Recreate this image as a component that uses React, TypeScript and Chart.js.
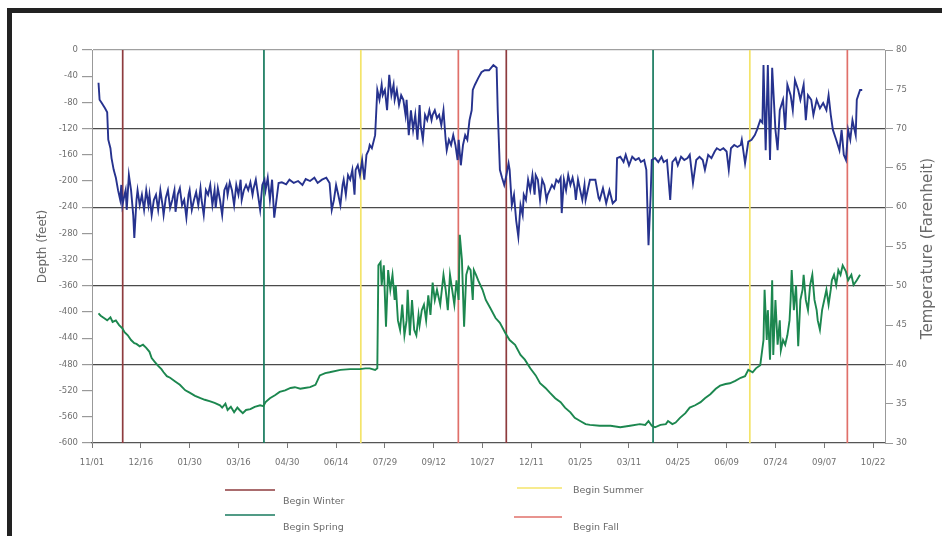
import React, { useEffect, useRef } from "react";
import { Chart, registerables } from "chart.js";

Chart.register(...registerables);

// ---- axis labels / ranges ----
const dateTickLabels = ["11/01", "12/16", "01/30", "03/16", "04/30", "06/14", "07/29", "09/12", "10/27", "12/11", "01/25", "03/11", "04/25", "06/09", "07/24", "09/07", "10/22"];
const dayStep = 45;
const lastDay = 731;
const depthMin = -600;
const depthMax = 0;
const depthStep = 40;
const tempMin = 30;
const tempMax = 80;
const tempStep = 5;

// ---- depth (feet) readings: [day, depth] ----
const depthReadings: [number, number][] = [
  [6, -50], [7, -76], [9, -81], [12, -89], [14, -95], [15, -137], [17, -150], [18, -165], [20, -183], [22, -195], [24, -214], [26, -229], [27, -206], [28, -237], [30, -221], [31, -214], [32, -244], [34, -191], [36, -214], [38, -252], [39, -287], [41, -229], [42, -214], [44, -237], [46, -221], [48, -244], [50, -214], [52, -237], [53, -221], [55, -252], [57, -229], [59, -221], [61, -244], [63, -214], [65, -237], [66, -252], [68, -226], [70, -214], [72, -241], [74, -229], [76, -214], [77, -247], [79, -221], [81, -211], [83, -237], [85, -229], [87, -256], [89, -221], [90, -214], [92, -244], [94, -229], [96, -217], [98, -237], [100, -211], [101, -229], [103, -252], [105, -214], [107, -221], [109, -206], [111, -237], [113, -214], [114, -241], [116, -211], [118, -229], [120, -252], [122, -214], [124, -206], [125, -221], [127, -202], [129, -214], [131, -237], [133, -206], [135, -221], [137, -198], [138, -229], [140, -214], [142, -206], [144, -214], [146, -202], [148, -221], [149, -211], [151, -198], [153, -221], [155, -244], [157, -206], [159, -198], [160, -214], [162, -195], [164, -229], [166, -198], [168, -256], [172, -203], [175, -202], [179, -205], [182, -198], [186, -203], [190, -200], [194, -206], [197, -197], [201, -200], [205, -195], [208, -203], [212, -198], [216, -195], [219, -203], [221, -244], [223, -229], [225, -206], [227, -221], [229, -237], [231, -206], [232, -198], [234, -221], [236, -191], [238, -198], [240, -183], [242, -221], [243, -183], [245, -176], [247, -191], [249, -168], [251, -198], [253, -160], [255, -153], [256, -145], [258, -150], [261, -130], [263, -61], [265, -76], [267, -53], [268, -69], [270, -61], [272, -92], [274, -38], [276, -69], [278, -53], [279, -76], [281, -61], [283, -84], [285, -69], [287, -76], [289, -99], [290, -76], [292, -130], [294, -92], [296, -122], [298, -99], [300, -137], [302, -84], [303, -115], [305, -137], [307, -99], [309, -107], [311, -92], [313, -107], [314, -99], [316, -92], [318, -104], [320, -99], [322, -115], [324, -92], [326, -137], [327, -153], [329, -137], [331, -145], [333, -130], [335, -145], [337, -168], [338, -137], [340, -176], [342, -145], [344, -130], [346, -137], [348, -107], [350, -92], [351, -61], [353, -53], [356, -43], [359, -34], [362, -31], [366, -31], [370, -23], [373, -27], [374, -92], [376, -183], [378, -195], [380, -206], [382, -191], [384, -173], [385, -183], [387, -237], [389, -221], [391, -260], [393, -285], [395, -237], [397, -252], [398, -221], [400, -229], [402, -198], [404, -214], [406, -191], [408, -221], [409, -191], [411, -198], [413, -229], [415, -198], [417, -206], [419, -229], [420, -221], [422, -214], [424, -206], [426, -211], [428, -198], [430, -202], [432, -195], [433, -249], [435, -198], [437, -214], [439, -191], [441, -206], [443, -195], [445, -211], [446, -229], [448, -198], [450, -214], [452, -229], [454, -206], [455, -229], [459, -198], [464, -198], [467, -226], [468, -229], [471, -211], [474, -234], [477, -214], [480, -234], [483, -229], [484, -165], [487, -163], [490, -171], [492, -160], [495, -176], [498, -163], [501, -168], [504, -165], [506, -171], [509, -168], [511, -183], [513, -298], [515, -221], [516, -168], [519, -165], [522, -171], [525, -163], [527, -171], [530, -168], [533, -229], [535, -171], [538, -165], [540, -176], [543, -163], [546, -168], [549, -165], [551, -160], [554, -203], [557, -168], [560, -163], [563, -168], [565, -183], [568, -160], [571, -165], [574, -155], [576, -150], [579, -153], [582, -150], [585, -155], [587, -183], [589, -150], [592, -145], [595, -148], [598, -145], [599, -137], [602, -173], [605, -140], [608, -137], [611, -130], [613, -122], [616, -107], [618, -111], [619, -23], [621, -153], [623, -23], [625, -168], [627, -27], [630, -122], [632, -153], [634, -92], [637, -76], [639, -122], [641, -53], [644, -69], [646, -92], [648, -46], [651, -61], [653, -76], [656, -53], [658, -107], [660, -69], [663, -76], [665, -99], [668, -76], [671, -89], [674, -81], [677, -92], [679, -69], [681, -99], [683, -122], [686, -137], [689, -153], [691, -122], [693, -160], [695, -168], [697, -122], [699, -137], [701, -107], [704, -130], [705, -76], [708, -61], [710, -61],
];

// ---- temperature (Fahrenheit) readings: [day, temp] ----
const tempReadings: [number, number][] = [
  [6, 46.5], [8, 46.2], [11, 45.9], [14, 45.6], [17, 46.0], [19, 45.4], [22, 45.6], [25, 45.0], [28, 44.6], [30, 44.1], [33, 43.7], [36, 43.1], [39, 42.7], [41, 42.6], [44, 42.3], [47, 42.5], [50, 42.1], [53, 41.6], [55, 40.8], [58, 40.3], [61, 39.8], [64, 39.4], [66, 39.0], [69, 38.5], [72, 38.3], [77, 37.8], [81, 37.4], [86, 36.7], [90, 36.4], [95, 36.0], [100, 35.7], [104, 35.5], [109, 35.3], [113, 35.1], [118, 34.8], [120, 34.5], [123, 35.0], [125, 34.2], [128, 34.6], [131, 33.9], [134, 34.5], [136, 34.2], [139, 33.8], [142, 34.2], [146, 34.3], [150, 34.6], [155, 34.8], [158, 34.7], [160, 35.2], [164, 35.7], [169, 36.1], [173, 36.5], [178, 36.7], [183, 37.0], [187, 37.1], [192, 36.9], [196, 37.0], [201, 37.1], [206, 37.4], [210, 38.6], [215, 38.9], [219, 39.0], [229, 39.3], [238, 39.4], [247, 39.4], [252, 39.5], [256, 39.5], [261, 39.3], [263, 39.5], [264, 52.6], [266, 53.0], [267, 50.1], [269, 52.6], [271, 44.8], [273, 52.0], [275, 49.5], [277, 51.4], [279, 48.2], [280, 50.1], [282, 45.6], [284, 44.4], [286, 47.6], [288, 43.7], [290, 45.6], [291, 49.5], [293, 43.7], [295, 48.2], [297, 44.4], [299, 43.7], [301, 46.3], [302, 45.0], [304, 46.9], [306, 47.6], [308, 45.6], [310, 48.8], [312, 46.3], [314, 50.4], [316, 48.2], [318, 49.5], [321, 47.6], [324, 51.4], [326, 49.5], [328, 46.9], [330, 51.4], [332, 49.5], [334, 47.6], [336, 50.7], [338, 48.2], [339, 56.5], [341, 53.3], [343, 44.8], [345, 51.4], [347, 52.4], [349, 52.0], [351, 48.2], [352, 52.0], [354, 51.4], [356, 50.7], [360, 49.5], [363, 48.2], [367, 47.2], [372, 45.9], [376, 45.3], [381, 44.0], [385, 43.1], [390, 42.5], [395, 41.2], [399, 40.6], [404, 39.5], [409, 38.6], [413, 37.6], [418, 37.0], [422, 36.4], [427, 35.7], [432, 35.2], [436, 34.5], [441, 33.9], [445, 33.2], [450, 32.8], [455, 32.4], [459, 32.3], [468, 32.2], [478, 32.2], [487, 32.0], [496, 32.2], [505, 32.4], [510, 32.3], [513, 32.8], [516, 32.2], [519, 32.0], [524, 32.3], [529, 32.4], [531, 32.8], [535, 32.4], [538, 32.6], [542, 33.2], [547, 33.8], [551, 34.5], [556, 34.8], [561, 35.2], [565, 35.7], [570, 36.2], [575, 36.9], [579, 37.3], [584, 37.5], [588, 37.6], [593, 37.9], [598, 38.3], [602, 38.5], [605, 39.3], [609, 39.0], [612, 39.5], [616, 39.9], [619, 43.1], [620, 49.5], [622, 43.1], [623, 46.9], [625, 40.6], [627, 50.7], [628, 41.2], [630, 48.2], [632, 42.5], [634, 45.6], [635, 41.8], [637, 43.1], [639, 42.5], [641, 43.7], [643, 45.6], [644, 48.2], [645, 52.0], [647, 46.9], [649, 50.1], [651, 42.3], [653, 48.2], [655, 49.5], [656, 51.4], [658, 48.2], [660, 46.9], [662, 50.1], [664, 51.4], [666, 48.2], [668, 46.9], [669, 45.6], [671, 44.4], [673, 46.9], [675, 48.2], [677, 49.5], [679, 47.6], [681, 49.5], [682, 50.7], [684, 51.4], [686, 50.1], [688, 52.0], [690, 51.4], [692, 52.6], [695, 51.8], [697, 50.7], [700, 51.4], [702, 50.1], [705, 50.7], [708, 51.4],
];

// ---- season markers (day of each vertical line) ----
const seasonNames = ["Begin Winter", "Begin Spring", "Begin Summer", "Begin Fall"];
const winterDays = [28.3, 381.9];
const springDays = [158.5, 517.2];
const summerDays = [247.8, 606.4];
const fallDays = [337.7, 696.3];

const seasonColors = ["#8e3b3e", "#177a5e", "#f4e46a", "#e0706a"];
const FONT = "'DejaVu Sans', Verdana, sans-serif";

function verticalLines(days: number[]) {
  const pts: { x: number; y: number | null }[] = [];
  days.forEach((d, i) => {
    if (i > 0) pts.push({ x: d, y: null });
    pts.push({ x: d, y: depthMax });
    pts.push({ x: d, y: depthMin });
  });
  return pts;
}

const legendSlots = [
  { x1: 225, x2: 275, ly: 490, tx: 283, ty: 502 },
  { x1: 225, x2: 275, ly: 515, tx: 283, ty: 528 },
  { x1: 517, x2: 562, ly: 488, tx: 573, ty: 491 },
  { x1: 514, x2: 562, ly: 517, tx: 573, ty: 528 },
];

const decorPlugin = {
  id: "decor",
  afterDraw(chart: any) {
    const ctx = chart.ctx;
    ctx.save();
    // legend
    const seasonSets = chart.data.datasets.filter((d: any) => d.isSeason);
    seasonSets.forEach((ds: any, i: number) => {
      const s = legendSlots[i];
      ctx.strokeStyle = ds.borderColor;
      ctx.lineWidth = 1.6;
      ctx.beginPath();
      ctx.moveTo(s.x1, s.ly);
      ctx.lineTo(s.x2, s.ly);
      ctx.stroke();
      ctx.fillStyle = "#6a6a6a";
      ctx.font = `9.5px ${FONT}`;
      ctx.textAlign = "left";
      ctx.textBaseline = "middle";
      ctx.fillText(ds.label, s.tx, s.ty);
    });
    // right axis title (reads bottom-to-top)
    const area = chart.chartArea;
    ctx.translate(928, (area.top + area.bottom) / 2 + 2);
    ctx.rotate(-Math.PI / 2);
    ctx.fillStyle = "#6a6a6a";
    ctx.font = `15px ${FONT}`;
    ctx.textAlign = "center";
    ctx.textBaseline = "middle";
    ctx.fillText("Temperature (Farenheit)", 0, 0);
    ctx.restore();
  },
};

export default function App() {
  const ref = useRef<HTMLCanvasElement | null>(null);

  useEffect(() => {
    if (!ref.current) return;
    const seasonDaySets = [winterDays, springDays, summerDays, fallDays];
    const chart = new Chart(ref.current, {
      type: "line",
      data: {
        datasets: [
          {
            label: "Depth",
            data: depthReadings.map(([x, y]) => ({ x, y })),
            borderColor: "#26328e",
            borderWidth: 1.9,
            pointRadius: 0,
            yAxisID: "y",
            tension: 0,
          } as any,
          {
            label: "Temperature",
            data: tempReadings.map(([x, y]) => ({ x, y })),
            borderColor: "#1c874f",
            borderWidth: 1.9,
            pointRadius: 0,
            yAxisID: "yT",
            tension: 0,
          } as any,
          ...seasonDaySets.map((days, i) => ({
            label: seasonNames[i],
            isSeason: true,
            data: verticalLines(days),
            borderColor: seasonColors[i],
            borderWidth: 1.7,
            pointRadius: 0,
            spanGaps: false,
            yAxisID: "y",
          })) as any,
        ],
      },
      options: {
        responsive: false,
        animation: false,
        devicePixelRatio: 1,
        layout: { padding: { top: 50, left: 0, right: 0, bottom: 536 - 443 - 30 } },
        plugins: { legend: { display: false }, tooltip: { enabled: false } },
        scales: {
          x: {
            type: "linear",
            min: 0,
            max: lastDay,
            afterFit: (s: any) => { s.height = 30; },
            afterBuildTicks: (s: any) => {
              s.ticks = dateTickLabels.map((_, i) => ({ value: i * dayStep }));
            },
            ticks: {
              callback: (v: any) => dateTickLabels[Math.round(Number(v) / dayStep)] ?? "",
              font: { family: FONT, size: 8.5 },
              color: "#707070",
              padding: 10,
              maxRotation: 0,
              autoSkip: false,
            },
            grid: { drawOnChartArea: false, tickLength: 5, color: "#777", tickColor: "#777" },
            border: { display: true, color: "#555", width: 1.2 },
          },
          y: {
            type: "linear",
            position: "left",
            min: depthMin,
            max: depthMax,
            afterFit: (s: any) => { s.width = 92; },
            ticks: {
              stepSize: depthStep,
              font: { family: FONT, size: 8.5 },
              color: "#707070",
              padding: 4,
            },
            grid: {
              color: (c: any) => {
                const v = c.tick?.value;
                if (v === depthMax) return "#a0a0a0";
                if (v !== depthMin && v % 120 === 0) return "#4a4a4a";
                return "rgba(0,0,0,0)";
              },
              lineWidth: 1.2,
              tickLength: 10,
              tickColor: "#999",
            },
            border: { display: true, color: "#999" },
            title: {
              display: true,
              text: "Depth (feet)",
              font: { family: FONT, size: 12 },
              color: "#6a6a6a",
              padding: { top: 36, bottom: 0 },
            },
          },
          yT: {
            type: "linear",
            position: "right",
            min: tempMin,
            max: tempMax,
            afterFit: (s: any) => { s.width = 942 - 885; },
            ticks: {
              stepSize: tempStep,
              font: { family: FONT, size: 8.5 },
              color: "#707070",
              padding: 3,
            },
            grid: { drawOnChartArea: false, tickLength: 8, color: "#999", tickColor: "#999" },
            border: { display: true, color: "#999" },
          },
        },
      },
      plugins: [decorPlugin],
    });
    return () => chart.destroy();
  }, []);

  return (
    <div style={{ position: "fixed", left: 0, top: 0, width: 942, height: 536, overflow: "hidden", background: "#fff" }}>
      <div
        style={{
          position: "absolute",
          left: 7,
          top: 8,
          width: 1200,
          height: 800,
          border: "5px solid #222",
          boxSizing: "border-box",
        }}
      />
      <canvas ref={ref} width={942} height={536} style={{ position: "absolute", left: 0, top: 0, width: 942, height: 536 }} />
    </div>
  );
}
